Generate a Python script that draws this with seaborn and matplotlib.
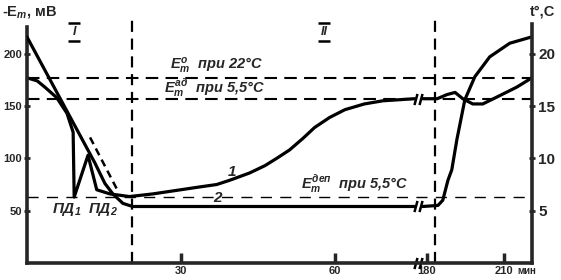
import numpy as np
import matplotlib
matplotlib.use("Agg")
import matplotlib.pyplot as plt
import matplotlib.path as mpath
import matplotlib.transforms as mtrans
import seaborn as sns

# --- data -------------------------------------------------------------
# curve 1: membrane potential -Em (mV), before and after the axis break
em_t = [0, 2, 3.5, 5.8, 7.8, 9.0, 9.2, 11.9, 13.6, 16.2, 20, 24.5, 30, 33.7,
        37, 39.5, 43.4, 46.4, 48.7, 51.2, 53.8, 56.1, 59, 62, 65.8, 69.4, 75.6]
em_v = [177, 174, 168, 158, 143, 125, 63, 103, 70, 66, 63.5, 66, 70, 72.7,
        75, 79, 86, 93, 100, 108, 119, 129.5, 139, 146.5, 152, 155, 157]
em_t2 = [178.4, 184, 187.9, 191, 194, 197.9, 201.8, 207.3, 215, 221]
em_v2 = [157, 157, 161, 163, 157, 152, 152, 158.6, 168, 177]

# curve 2: temperature (°C)
tc_t = [0, 13.2, 15.2, 16.75, 18.7, 20.6, 75.6]
tc_v = [21.6, 9.6, 7.6, 6.6, 5.7, 5.4, 5.4]
tc_t2 = [178.4, 184.3, 186.2, 188.2, 189.7, 191.7, 194.8, 198.7, 204.5, 212.3, 220.8]
tc_v2 = [5.4, 5.5, 6.0, 7.9, 8.9, 11.8, 15.6, 17.8, 19.7, 21.0, 21.6]

# dashed extrapolation of curve 1
ex_t = [12.3, 17.6]
ex_v = [120, 70]

em_rest = 177      # Em at 22 °C
em_adapt = 157     # Em adapted at 5.5 °C
em_dep = 63        # Em depolarised at 5.5 °C
phase_bounds = [20.5, 183]

x_ticks = [30, 60, 180, 210]
y_ticks = [50, 100, 150, 200]
t_ticks = [5, 10, 15, 20]

# --- broken time axis ---------------------------------------------------
BRK_L, BRK_R, GAP, K = 76.2, 178.0, 0.8, 0.5


def fwd(t):
    t = np.asarray(t, float)
    mid = BRK_L + (t - BRK_L) * GAP / (BRK_R - BRK_L)
    return np.where(t <= BRK_L, t,
                    np.where(t >= BRK_R, BRK_L + GAP + (t - BRK_R) * K, mid))


def inv(u):
    u = np.asarray(u, float)
    mid = BRK_L + (u - BRK_L) * (BRK_R - BRK_L) / GAP
    return np.where(u <= BRK_L, u,
                    np.where(u >= BRK_L + GAP, BRK_R + (u - BRK_L - GAP) / K, mid))


sns.set_style("ticks")
plt.rcParams['font.family'] = ['Liberation Sans', 'DejaVu Sans']
plt.rcParams['font.weight'] = 'bold'
plt.rcParams['mathtext.fontset'] = 'custom'
plt.rcParams['mathtext.it'] = 'Liberation Sans:bold:italic'
plt.rcParams['mathtext.rm'] = 'Liberation Sans:bold:italic'
plt.rcParams['mathtext.bf'] = 'Liberation Sans:bold:italic'

fig = plt.figure(figsize=(5.61, 2.8), dpi=100)
ax = fig.add_axes([27 / 561, 17 / 280, 505 / 561, 248 / 280])
ax.set_xscale('function', functions=(fwd, inv))
ax2 = ax.twinx()

lw = 2.3
sns.lineplot(x=em_t, y=em_v, sort=False, estimator=None, color='k', lw=lw, ax=ax)
sns.lineplot(x=em_t2, y=em_v2, sort=False, estimator=None, color='k', lw=lw, ax=ax)
sns.lineplot(x=ex_t, y=ex_v, sort=False, estimator=None, color='k', lw=1.8,
             ax=ax, linestyle=(0, (3, 2)))
sns.lineplot(x=tc_t, y=tc_v, sort=False, estimator=None, color='k', lw=lw, ax=ax2)
sns.lineplot(x=tc_t2, y=tc_v2, sort=False, estimator=None, color='k', lw=lw, ax=ax2)

for v in [em_rest, em_adapt]:
    ax.axhline(v, color='k', lw=1.5, ls=(0, (6, 3.5)))
ax.axhline(em_dep, color='k', lw=1.0, ls=(0, (8, 6)))
for t in phase_bounds:
    ax.axvline(t, color='k', lw=1.6, ls=(0, (5, 3)))

ax.set_xlim(0, 221)
ax.set_ylim(0, 237)
ax2.set_ylim(0, 23.7)

# break marks
brk = mpath.Path([(-1.6, -2.2), (-0.4, 2.2), (0.4, -2.2), (1.6, 2.2)],
                 [mpath.Path.MOVETO, mpath.Path.LINETO, mpath.Path.MOVETO, mpath.Path.LINETO])
ax.plot([BRK_L + 0.3], [em_adapt], marker=brk, ms=8, mew=1.8, color='k', ls='none')
ax2.plot([BRK_L + 0.3], [tc_v[-1]], marker=brk, ms=8, mew=1.8, color='k', ls='none')
ax.plot([BRK_L + 0.3], [0], marker=brk, ms=8, mew=1.8, color='k', ls='none', clip_on=False)

# spines / ticks
for a in (ax, ax2):
    a.spines['top'].set_visible(False)
    a.set_xticks(x_ticks)
    a.set_xticklabels([str(x) for x in x_ticks])
ax.spines['left'].set_bounds(0, 225.6)
ax.spines['left'].set_linewidth(2.6)
ax.spines['bottom'].set_linewidth(2.6)
ax.spines['right'].set_visible(False)
ax2.spines['left'].set_visible(False)
ax2.spines['bottom'].set_visible(False)
ax2.spines['right'].set_bounds(0, 22.8)
ax2.spines['right'].set_linewidth(2.6)

ax.set_yticks(y_ticks)
ax2.set_yticks(t_ticks)
ax.tick_params(axis='y', direction='inout', length=5, width=2, labelsize=8, pad=1)
ax2.tick_params(axis='y', direction='inout', length=5, width=2, labelsize=11, pad=2)
ax.tick_params(axis='x', direction='in', length=7, width=2.5, labelsize=8, pad=2)
ax.set_xlabel('')
ax.set_ylabel('')
ax2.set_ylabel('')
ax.grid(False)

# axis titles
fig.text(2 / 561, 1 - 12 / 280, '-E$_m$, мВ', fontsize=10.5, va='center', ha='left')
fig.text(555 / 561, 1 - 12 / 280, 't°,C', fontsize=10.5, va='center', ha='right')
ax.text(219, -3, 'мин', fontsize=7, ha='center', va='top')

# phase labels with bars above and below
for t, lab in [(9.2, 'I'), (58, 'II')]:
    ax.text(t, 221, lab, fontsize=9, ha='center', va='center', style='italic')
    for dy in (6.5, -6.5):
        tr = mtrans.offset_copy(ax.transData, fig=fig, y=dy, units='points')
        ax.plot([t], [221], marker='_', ms=8, mew=1.8, color='k', transform=tr)

kw = dict(fontsize=10.5, style='italic', ha='left', va='bottom')
ax.text(27.8, 179, '$E^{o}_{m}$  при 22°C', **kw)
ax.text(26.8, 157.5, '$E^{ад}_{m}$  при 5,5°C', **kw)
ax.text(53.5, 66, '$E^{деп}_{m}$  при 5,5°C', **kw)
ax.text(39.9, 87, '1', fontsize=11, style='italic', ha='center', va='center')
ax.text(37.2, 62, '2', fontsize=11, style='italic', ha='center', va='center')
ax.text(7.8, 51, 'ПД$_1$', fontsize=11, style='italic', ha='center', va='center')
ax.text(14.8, 51, 'ПД$_2$', fontsize=11, style='italic', ha='center', va='center')

fig.savefig('out.png', dpi=100)
